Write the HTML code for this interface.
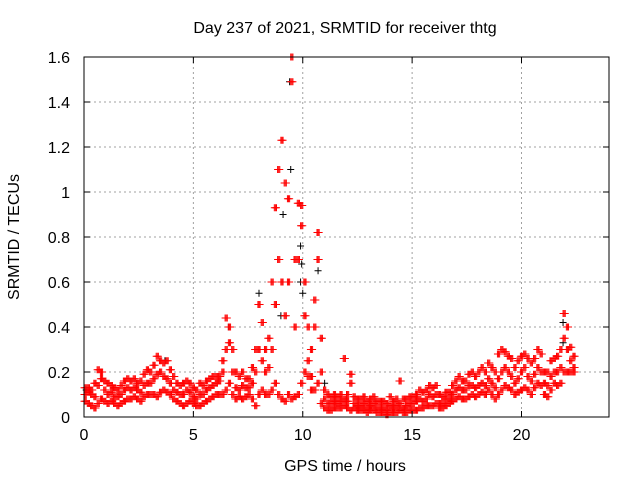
<!DOCTYPE html>
<html><head><meta charset="utf-8"><style>
html,body{margin:0;padding:0;background:#fff}
svg{display:block;font-family:"Liberation Sans",sans-serif}
</style></head><body>
<svg id="chart" width="640" height="480" viewBox="0 0 640 480" xmlns="http://www.w3.org/2000/svg">
<rect width="640" height="480" fill="#fff"/>
<g id="grid"></g>
<g id="marks"></g>
<rect x="84" y="57" width="525" height="360" fill="none" stroke="#000" stroke-width="1"/>
<g id="ticks"></g>
<text x="345" y="33" font-size="16" text-anchor="middle">Day 237 of 2021, SRMTID for receiver thtg</text>
<text x="345" y="471" font-size="16" text-anchor="middle">GPS time / hours</text>
<text transform="translate(19,237) rotate(-90)" font-size="16" text-anchor="middle">SRMTID / TECUs</text>
</svg>
<script>
const xTicks=[0,5,10,15,20];
const yTicks=[0,0.2,0.4,0.6,0.8,1,1.2,1.4,1.6];
const yTickLabels=["0","0.2","0.4","0.6","0.8","1","1.2","1.4","1.6"];
const timeStep=0.15;
const loVals=[.07,.06,.05,.04,.06,.08,.07,.06,.07,.06,
.05,.06,.07,.08,.08,.09,.08,.07,.09,.1,
.1,.1,.09,.11,.12,.11,.1,.08,.07,.06,
.05,.06,.07,.06,.05,.05,.06,.07,.08,.09,
.1,.1,.1,.12,.15,.1,.08,.09,.08,.09,
.1,.08,.05,.1,.12,.1,.1,.12,.15,.1,
.08,.07,.1,.08,.09,.1,.15,.2,.18,.12,
.12,.15,.06,.04,.03,.03,.04,.04,.04,.05,
.04,.03,.04,.03,.03,.03,.02,.03,.03,.02,
.02,.02,.01,.02,.02,.02,.03,.02,.02,.03,
.03,.03,.04,.04,.05,.05,.05,.06,.04,.04,
.05,.06,.07,.08,.09,.08,.08,.09,.1,.09,
.1,.11,.1,.12,.1,.08,.1,.12,.14,.13,
.12,.1,.11,.12,.13,.12,.1,.13,.15,.14,
.1,.09,.12,.15,.14,.15,.2,.2,.2,.2];
const midVals=[.1,.11,.1,.09,.14,.17,.12,.1,.11,.09,
.09,.1,.12,.13,.12,.13,.12,.11,.14,.15,
.15,.17,.19,.2,.18,.17,.15,.12,.11,.1,
.1,.12,.11,.09,.08,.1,.1,.12,.13,.14,
.15,.16,.2,.3,.33,.2,.13,.12,.14,.13,
.13,.15,.2,.3,.25,.2,.22,.3,.5,.7,
.6,.45,.6,1.49,.4,.7,.85,.45,.25,.18,
.4,.7,.2,.08,.06,.06,.07,.06,.07,.08,
.07,.15,.06,.05,.05,.06,.04,.05,.06,.04,
.04,.04,.03,.05,.04,.05,.06,.04,.05,.06,
.06,.07,.08,.07,.08,.1,.09,.1,.06,.06,
.08,.08,.1,.12,.13,.12,.12,.14,.14,.13,
.14,.15,.14,.17,.15,.13,.17,.2,.22,.2,
.18,.15,.17,.2,.22,.18,.16,.19,.22,.2,
.15,.14,.18,.2,.2,.22,.35,.3,.25,.22];
const hiVals=[.13,.13,.12,.15,.21,.2,.16,.15,.14,.13,
.12,.14,.16,.17,.16,.17,.15,.16,.19,.21,
.2,.23,.27,.25,.24,.25,.21,.18,.15,.14,
.15,.16,.15,.13,.12,.15,.14,.16,.17,.18,
.18,.18,.25,.44,.4,.3,.2,.18,.2,.17,
.17,.22,.3,.5,.42,.3,.35,.6,.93,1.1,
1.23,1.04,.97,1.6,.7,.95,.94,.6,.4,.3,
.52,.82,.35,.12,.1,.09,.1,.09,.1,.26,
.1,.19,.09,.08,.08,.09,.07,.08,.09,.07,
.07,.07,.06,.09,.07,.08,.16,.08,.08,.09,
.09,.1,.12,.11,.12,.14,.13,.14,.1,.09,
.11,.11,.14,.16,.18,.16,.16,.19,.2,.18,
.2,.22,.2,.24,.22,.2,.28,.3,.29,.27,
.26,.22,.25,.27,.28,.26,.24,.26,.3,.28,
.2,.2,.25,.26,.27,.3,.46,.4,.31,.27];
const blackTimes=[0.0,0.1,3.7,6.6,8.0,9.0,9.1,9.4,9.45,9.9,9.95,9.9,10.0,10.7,11.0,21.9,21.9];
const blackVals=[0.1,0.12,0.25,0.4,0.55,0.45,0.9,1.49,1.1,0.76,0.68,0.6,0.55,0.65,0.15,0.42,0.33];

const X0=84,X1=609,Y0=417,Y1=57,XMAX=24,YMAX=1.6;
const sx=t=>X0+t/XMAX*(X1-X0);
const sy=v=>Y0-v/YMAX*(Y0-Y1);
const NS="http://www.w3.org/2000/svg";
const grid=document.getElementById('grid'),ticks=document.getElementById('ticks'),marks=document.getElementById('marks');
function mk(tag,attrs,parent){const e=document.createElementNS(NS,tag);for(const k in attrs)e.setAttribute(k,attrs[k]);parent.appendChild(e);return e;}
xTicks.forEach((t,i)=>{
  const x=sx(t);
  if(t>0){const g=mk('line',{x1:x,x2:x,y1:Y1,y2:Y0,stroke:'#a0a0a0','stroke-dasharray':'2,3'},grid);
  
  }
  const tk=mk('path',{d:`M${x} ${Y0}v-6M${x} ${Y1}v6`,stroke:'#000'},ticks);
  
  
  const l=mk('text',{x:x,y:Y0+23,'font-size':'16','text-anchor':'middle'},ticks);l.textContent=String(t);
  
  
});
yTicks.forEach((v,i)=>{
  const y=sy(v);
  if(v>0&&v<YMAX){const g=mk('line',{x1:X0,x2:X1,y1:y,y2:y,stroke:'#a0a0a0','stroke-dasharray':'2,3'},grid);
  
  }
  const tk=mk('path',{d:`M${X0} ${y}h6M${X1} ${y}h-6`,stroke:'#000'},ticks);
  
  
  const l=mk('text',{x:X0-14,y:y+6,'font-size':'16','text-anchor':'end'},ticks);l.textContent=yTickLabels[i];
  
  
});
function plus(t,v,color,name){
  const x=sx(t),y=sy(v);
  const p=mk('path',{d:`M${x-3.5} ${y}h7M${x} ${y-3.5}v7`,stroke:color,'stroke-width':'1',fill:'none'},marks);
  
  
}
blackTimes.forEach((t,i)=>plus(t,blackVals[i],'#000','black-point'));
[loVals,midVals,hiVals].forEach((arr,k)=>{
  arr.forEach((v,i)=>{
    [0,0.05,0.1].forEach(dt=>{plus(i*timeStep+dt,v,'#ff0000','red-point');});
  });
});
</script>
</body></html>
